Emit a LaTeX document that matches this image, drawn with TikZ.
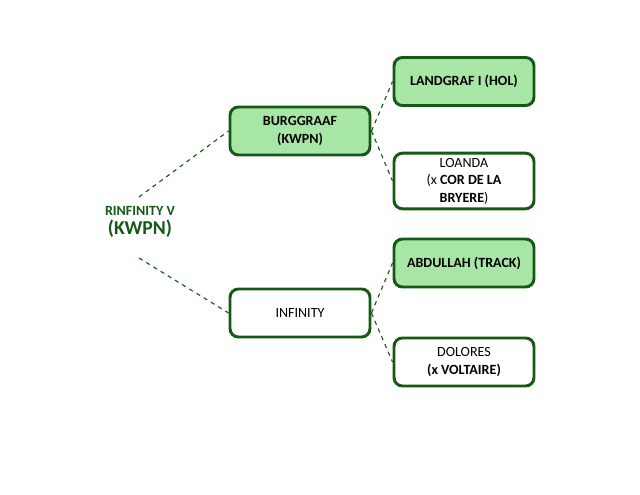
\documentclass[tikz,border=0pt]{standalone}
\usepackage{fontspec}
\setmainfont{Carlito}
\usepackage{tikz}

\definecolor{horsegreen}{RGB}{22,88,22}
\definecolor{horsefill}{RGB}{168,230,165}

\tikzset{
    horse/.style={draw=horsegreen, line width=2.1pt, rounded corners=6pt, minimum width=3.5cm, minimum height=1.2cm, align=center, font=\fontsize{10}{12.5}\selectfont},
    sire/.style={horse, fill=horsefill, font=\fontsize{10}{12.5}\selectfont\bfseries},
    dam/.style={horse, fill=white},
    link/.style={draw=horsegreen, dashed, line width=0.8pt}
}

\begin{document}
\begin{tikzpicture}
        \useasboundingbox (0,0) rectangle (16,12.35);

        \node[align=center, text=horsegreen, font=\bfseries] (root) at (3.5,6.8) {{\fontsize{10}{12}\selectfont RINFINITY V}\\[2pt]{\fontsize{14}{16}\selectfont (KWPN)}};
        \coordinate (roottop) at (3.475,7.425);
        \coordinate (rootbot) at (3.475,5.9);

        \node[sire] (burggraaf) at (7.5,9.075) {BURGGRAAF\\(KWPN)};
        \node[dam] (infinity) at (7.5,4.525) {INFINITY};
        \node[sire] (landgraf) at (11.6,10.3125) {LANDGRAF I (HOL)};
        \node[dam] (loanda) at (11.6,7.825) {LOANDA\\(x \textbf{COR DE LA}\\\textbf{BRYERE})};
        \node[sire] (abdullah) at (11.6,5.775) {ABDULLAH (TRACK)};
        \node[dam] (dolores) at (11.6,3.3) {DOLORES\\\textbf{(x VOLTAIRE)}};

        \draw[link] (roottop) -- (burggraaf.west);
        \draw[link] (rootbot) -- (infinity.west);
        \draw[link] (burggraaf.east) -- (landgraf.west);
        \draw[link] (burggraaf.east) -- (loanda.west);
        \draw[link] (infinity.east) -- (abdullah.west);
        \draw[link] (infinity.east) -- (dolores.west);
    \end{tikzpicture}
\end{document}
